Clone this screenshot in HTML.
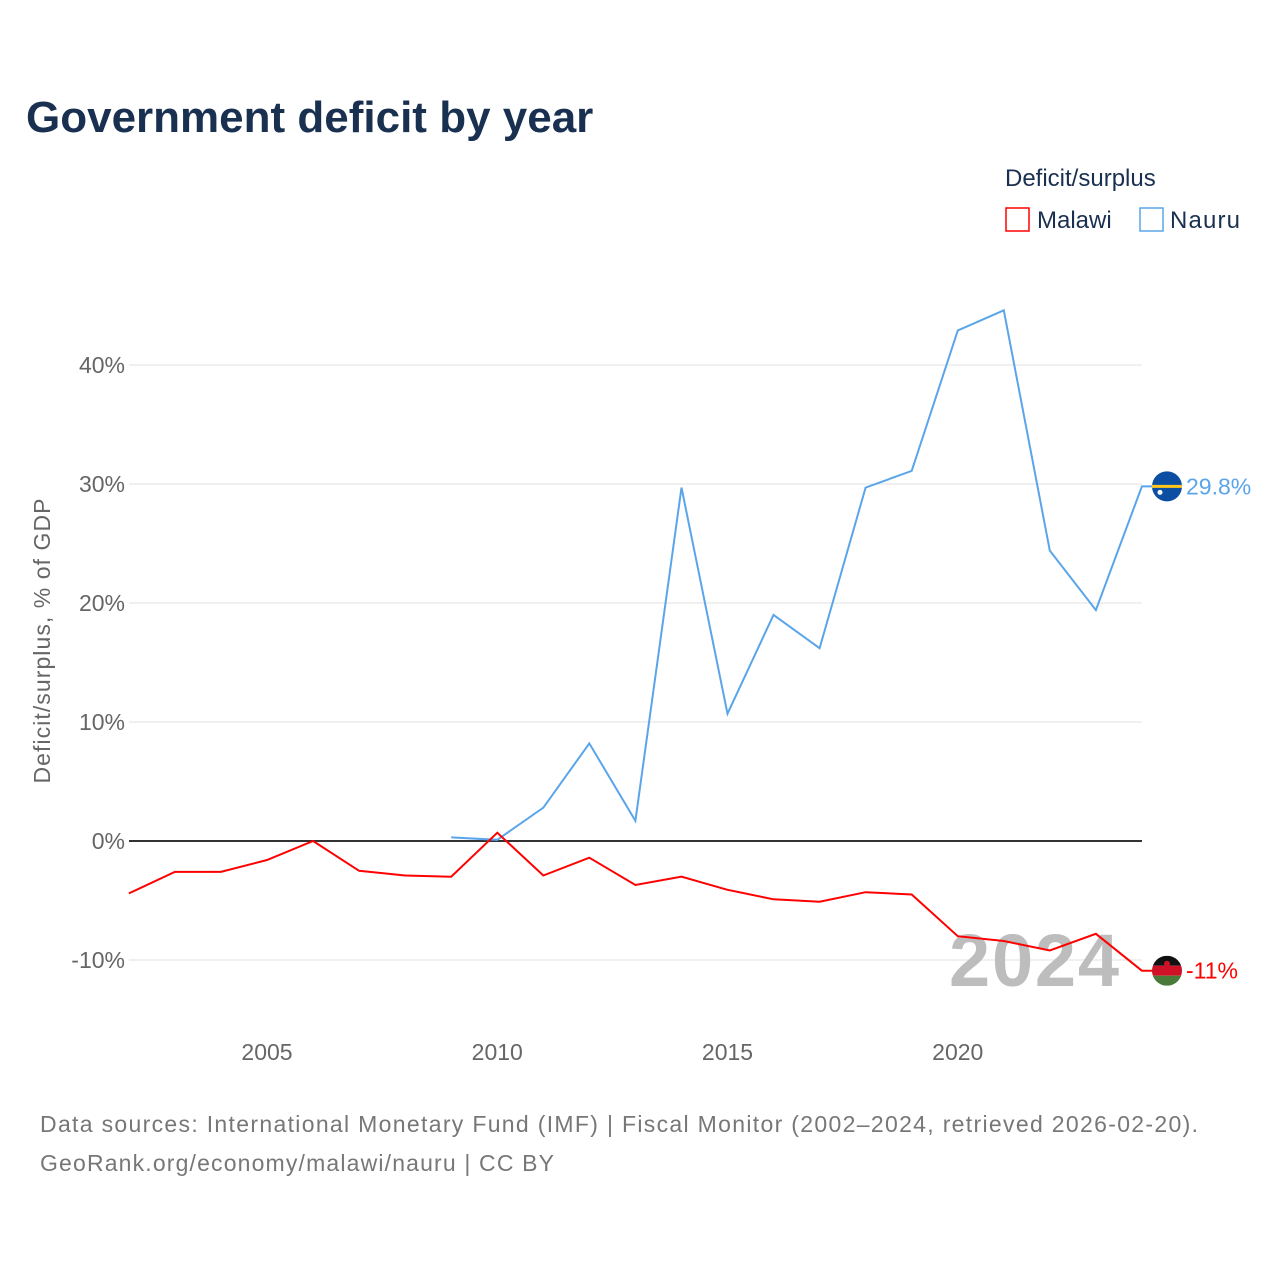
<!DOCTYPE html>
<html><head><meta charset="utf-8"><style>
body{margin:0;background:#fff;}
svg text{font-family:"Liberation Sans",sans-serif;}
</style></head><body>
<svg width="1280" height="1280" viewBox="0 0 1280 1280" xmlns="http://www.w3.org/2000/svg">
<text x="26" y="132" font-size="44" font-weight="bold" fill="#1a3050">Government deficit by year</text>
<g>
<text x="1005" y="186" font-size="24" fill="#1a3050">Deficit/surplus</text>
<g><rect x="1006" y="208" width="23" height="23" fill="none" stroke="#f00" stroke-width="1.5"/><text x="1037" y="228" font-size="24" fill="#1a3050">Malawi</text></g>
<g><rect x="1140" y="208" width="23" height="23" fill="none" stroke="#5aa5ea" stroke-width="1.5"/><text x="1170" y="228" font-size="24" fill="#1a3050" textLength="70">Nauru</text></g>
</g>
<g id="grid"></g>
<g id="yticks"></g>
<g id="xticks"></g>
<text x="949" y="986" font-size="74" font-weight="bold" fill="#bdbdbd" textLength="170">2024</text>
<text transform="translate(50,641) rotate(-90)" text-anchor="middle" font-size="23" fill="#666" textLength="285">Deficit/surplus, % of GDP</text>
<g id="series"></g>
<text x="40" y="1132" font-size="23" fill="#777" textLength="1158">Data sources: International Monetary Fund (IMF) | Fiscal Monitor (2002–2024, retrieved 2026-02-20).</text>
<text x="40" y="1171" font-size="23" fill="#777" textLength="514">GeoRank.org/economy/malawi/nauru | CC BY</text>
</svg>
<script>
const years=[2002,2003,2004,2005,2006,2007,2008,2009,2010,2011,2012,2013,2014,2015,2016,2017,2018,2019,2020,2021,2022,2023,2024];
const malawi=[-4.4,-2.6,-2.6,-1.6,0,-2.5,-2.9,-3.0,0.7,-2.9,-1.4,-3.7,-3.0,-4.1,-4.9,-5.1,-4.3,-4.5,-8.0,-8.4,-9.2,-7.8,-10.9];
const nauru=[null,null,null,null,null,null,null,0.3,0.1,2.8,8.2,1.7,29.7,10.7,19.0,16.2,29.7,31.1,42.9,44.6,24.4,19.4,29.8];
const yTicks=[-10,0,10,20,30,40];
const xTicks=[2005,2010,2015,2020];
const NS="http://www.w3.org/2000/svg";
const X=y=>267+(y-2005)*46.05;
const Y=v=>841-v*11.9;
function mk(t,a,p){const e=document.createElementNS(NS,t);for(const k in a)e.setAttribute(k,a[k]);p.appendChild(e);return e;}
const grid=document.getElementById('grid'),yt=document.getElementById('yticks'),xt=document.getElementById('xticks'),ser=document.getElementById('series');
yTicks.forEach(v=>{
 const l=mk('line',{x1:129,x2:1142,y1:Y(v),y2:Y(v),stroke:v===0?'#333':'#e6e6e6','stroke-width':v===0?2:1.2},grid);
 
 
 const t=mk('text',{x:125,y:Y(v)+8,'text-anchor':'end','font-size':23,fill:'#666'},yt);
 t.textContent=v+'%';
 
 
});
xTicks.forEach(v=>{
 const t=mk('text',{x:X(v),y:1060,'text-anchor':'middle','font-size':23,fill:'#666'},xt);
 t.textContent=v;
 
 
});
function line(vals,color,name,label,flag){
 let d='';let last=null;
 vals.forEach((v,i)=>{if(v===null)return;d+=(d?'L':'M')+X(years[i]).toFixed(1)+','+Y(v).toFixed(1);last=v;});
 d+='L'+(X(2024)+13)+','+Y(last).toFixed(1);
 const p=mk('path',{d:d,fill:'none',stroke:color,'stroke-width':2},ser);
 
 
 const cy=Y(last);
 const g=mk('g',{},ser);
 
 
 flag(g,1167,cy);
 const t=mk('text',{x:1186,y:cy+8,'font-size':23,fill:color},ser);
 t.textContent=label;
 
 
}
line(nauru,'#5aa5ea','nauru','29.8%',(g,x,y)=>{
 mk('circle',{cx:x,cy:y,r:15,fill:'#0b4ea2'},g);
 mk('rect',{x:x-15,y:y-1.5,width:30,height:3,fill:'#ffc61e'},g);
 mk('circle',{cx:x-7,cy:y+6,r:2.5,fill:'#fff'},g);
});
line(malawi,'#f00','malawi','-11%',(g,x,y)=>{
 mk('clipPath',{id:'mc'},g).appendChild(document.createElementNS(NS,'circle'));
 const c=g.querySelector('clipPath circle');c.setAttribute('cx',x);c.setAttribute('cy',y);c.setAttribute('r',15);
 mk('rect',{x:x-15,y:y-15,width:30,height:10,fill:'#111','clip-path':'url(#mc)'},g);
 mk('rect',{x:x-15,y:y-5,width:30,height:10,fill:'#ce1126','clip-path':'url(#mc)'},g);
 mk('rect',{x:x-15,y:y+5,width:30,height:10,fill:'#4a7a3a','clip-path':'url(#mc)'},g);
 mk('circle',{cx:x,cy:y-7,r:3,fill:'#ce1126'},g);
});
</script>
</body></html>
